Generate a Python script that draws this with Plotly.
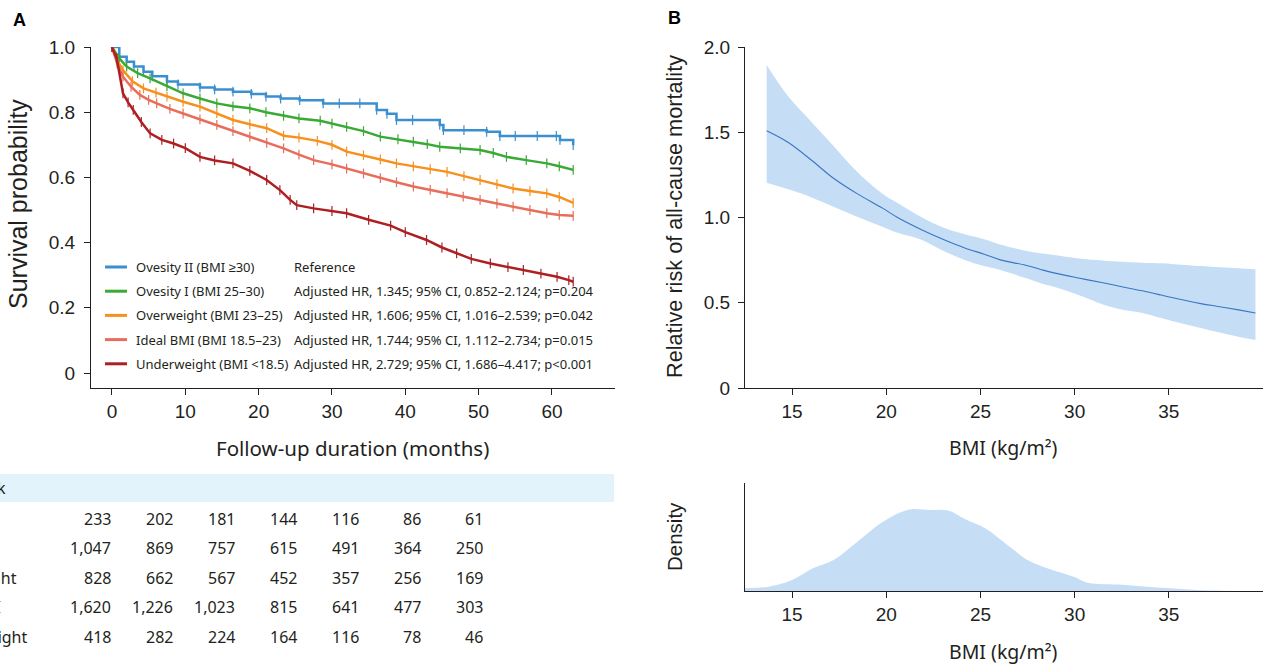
import plotly.graph_objects as go

W, H = 1266, 664
def px(x): return x / W
def py(y): return 1 - y / H

# ---------------- Panel A data (Kaplan-Meier) ----------------
groups = ["Ovesity II (BMI \u226530)", "Ovesity I (BMI 25\u201330)", "Overweight (BMI 23\u201325)",
          "Ideal BMI (BMI 18.5\u201323)", "Underweight (BMI <18.5)"]
hr_text = ["Reference",
           "Adjusted HR, 1.345; 95% CI, 0.852\u20132.124; p=0.204",
           "Adjusted HR, 1.606; 95% CI, 1.016\u20132.539; p=0.042",
           "Adjusted HR, 1.744; 95% CI, 1.112\u20132.734; p=0.015",
           "Adjusted HR, 2.729; 95% CI, 1.686\u20134.417; p<0.001"]
colors = ["#3b8fcf", "#3aa935", "#f6901e", "#e86d5b", "#ad1f23"]
shapes_km = ["hv", "linear", "linear", "linear", "linear"]

t_ob2 = [0, 1, 2, 3, 4.3, 5.5, 7.5, 9, 12, 14, 16.5, 19, 21, 23, 25.6, 28.8, 31, 33.8, 36.1, 37.5,
         38.8, 41, 44.7, 45.2, 48, 51.1, 52.9, 55, 58, 60.6, 61.1, 62.9]
s_ob2 = [1.0, 0.97, 0.955, 0.94, 0.924, 0.91, 0.894, 0.885, 0.876, 0.87, 0.863, 0.856, 0.848, 0.842,
         0.837, 0.827, 0.827, 0.827, 0.807, 0.795, 0.776, 0.776, 0.761, 0.745, 0.745, 0.740, 0.727,
         0.727, 0.727, 0.727, 0.715, 0.699]

t_ob1 = [0, 1, 2, 3.5, 5.2, 7.5, 9.7, 12, 14.3, 16.5, 18.8, 21, 23.4, 25.5, 28.4, 30, 32, 34.3, 36.6,
         39, 41.1, 43, 44.7, 47.5, 50.2, 52, 53.8, 56.5, 59.3, 61, 62.9]
s_ob1 = [1.0, 0.965, 0.94, 0.92, 0.904, 0.88, 0.858, 0.842, 0.827, 0.818, 0.812, 0.80, 0.789, 0.781,
         0.774, 0.765, 0.755, 0.742, 0.725, 0.717, 0.710, 0.702, 0.694, 0.689, 0.684, 0.675, 0.663,
         0.653, 0.643, 0.634, 0.623]

t_ow = [0, 0.7, 1.5, 2.8, 4.3, 6, 7.5, 9.7, 12, 14.3, 16.5, 18.8, 21.1, 23.4, 25.5, 28, 30, 32, 34.3,
        36.6, 38.8, 41.1, 43.4, 45.7, 48, 50.2, 52.5, 54.7, 57, 59.3, 61, 62.9]
s_ow = [1.0, 0.96, 0.929, 0.895, 0.873, 0.86, 0.848, 0.832, 0.817, 0.797, 0.776, 0.763, 0.751, 0.728,
        0.722, 0.712, 0.70, 0.679, 0.668, 0.655, 0.643, 0.634, 0.625, 0.617, 0.604, 0.592, 0.579,
        0.566, 0.558, 0.551, 0.54, 0.522]

t_id = [0, 0.7, 1.5, 2.6, 3.8, 5, 6.1, 7.9, 9.7, 12, 14.3, 16.5, 18.8, 21.1, 23.4, 25.5, 27.5, 30, 32,
        34.3, 36.6, 38.8, 41.1, 43.4, 45.7, 47.9, 50.2, 52.5, 54.7, 57, 59.3, 61, 62.9]
s_id = [1.0, 0.95, 0.909, 0.878, 0.853, 0.838, 0.827, 0.81, 0.796, 0.778, 0.761, 0.742, 0.725, 0.706,
        0.689, 0.67, 0.653, 0.64, 0.627, 0.612, 0.598, 0.585, 0.572, 0.562, 0.552, 0.541, 0.531,
        0.52, 0.51, 0.50, 0.49, 0.485, 0.482]

t_uw = [0, 0.65, 1.5, 2.2, 2.9, 4, 5.2, 6.8, 8.4, 10, 12, 14, 16.5, 18.8, 21.1, 22.9, 24.3, 25.2, 27.5,
        30, 32, 35, 38, 40, 42.9, 45, 47, 49, 51.6, 54, 56.1, 58.5, 60.7, 62.3, 62.9]
s_uw = [1.0, 0.965, 0.858, 0.83, 0.807, 0.77, 0.735, 0.715, 0.704, 0.69, 0.663, 0.652, 0.643, 0.62,
        0.592, 0.561, 0.531, 0.515, 0.505, 0.497, 0.49, 0.47, 0.452, 0.432, 0.408, 0.385, 0.367,
        0.35, 0.336, 0.325, 0.316, 0.305, 0.295, 0.285, 0.28]

km_t = [t_ob2, t_ob1, t_ow, t_id, t_uw]
km_s = [s_ob2, s_ob1, s_ow, s_id, s_uw]

# Number at risk table
risk_times = [0, 10, 20, 30, 40, 50, 60]
risk_labels = ["Ovesity II", "Ovesity I", "Overweight", "Ideal BMI", "Underweight"]
risk_ob2 = ["233", "202", "181", "144", "116", "86", "61"]
risk_ob1 = ["1,047", "869", "757", "615", "491", "364", "250"]
risk_ow = ["828", "662", "567", "452", "357", "256", "169"]
risk_id = ["1,620", "1,226", "1,023", "815", "641", "477", "303"]
risk_uw = ["418", "282", "224", "164", "116", "78", "46"]
risk_rows = [risk_ob2, risk_ob1, risk_ow, risk_id, risk_uw]

# ---------------- Panel B data ----------------
bmi = [13.65, 14.8, 16.1, 17.2, 18.45, 19.8, 20.6, 21.9, 23.1, 24.2, 25.2, 26.1, 27.4, 28.2, 28.9,
       30.2, 31.5, 32.5, 33.6, 34.6, 35.1, 36.7, 37.7, 38.7, 39.6]
rr = [1.509, 1.44, 1.33, 1.23, 1.14, 1.055, 1.0, 0.927, 0.868, 0.82, 0.785, 0.75, 0.72, 0.695, 0.675,
      0.645, 0.617, 0.594, 0.57, 0.545, 0.532, 0.495, 0.477, 0.458, 0.44]
rr_upper = [1.894, 1.709, 1.552, 1.42, 1.269, 1.14, 1.085, 1.0, 0.938, 0.90, 0.873, 0.84, 0.805, 0.79,
            0.78, 0.76, 0.748, 0.74, 0.735, 0.731, 0.728, 0.715, 0.708, 0.702, 0.696]
rr_lower = [1.204, 1.165, 1.115, 1.063, 1.005, 0.946, 0.91, 0.868, 0.80, 0.75, 0.715, 0.69, 0.645,
            0.615, 0.594, 0.545, 0.49, 0.46, 0.44, 0.41, 0.395, 0.352, 0.325, 0.30, 0.281]

dens_bmi = [12.5, 13.75, 15.0, 16.1, 17.2, 18.45, 19.7, 20.8, 21.4, 22.3, 23.3, 24.2, 25.25, 26.55,
            27.5, 28.7, 29.95, 30.7, 32.5, 33.8, 34.9, 36.5, 37.9, 40.0]
dens_val = [0.0037, 0.0052, 0.0134, 0.0277, 0.0378, 0.0598, 0.0826, 0.0963, 0.1, 0.0988, 0.0982,
            0.0874, 0.0765, 0.054, 0.0378, 0.0265, 0.0174, 0.0101, 0.0077, 0.0052, 0.0037, 0.0012,
            0.0004, 0.0]

AX = "#231f20"
BAND = "#c5def5"
TICKFONT = dict(family="Liberation Sans, Arial, sans-serif", size=19, color=AX)

fig = go.Figure()

for i in range(5):
    fig.add_trace(go.Scatter(
        x=km_t[i], y=km_s[i], mode="lines+markers",
        line=dict(color=colors[i], width=2.5, shape=shapes_km[i]),
        marker=dict(symbol="line-ns", size=7, line=dict(color=colors[i], width=1.2)),
        xaxis="x", yaxis="y", showlegend=False, hoverinfo="skip"))

# relative risk band
fig.add_trace(go.Scatter(x=bmi, y=rr_lower, mode="lines", line=dict(width=0, color=BAND, shape="spline"),
                         xaxis="x2", yaxis="y2", showlegend=False))
fig.add_trace(go.Scatter(x=bmi, y=rr_upper, mode="lines", line=dict(width=0, color=BAND, shape="spline"),
                         fill="tonexty", fillcolor=BAND, xaxis="x2", yaxis="y2", showlegend=False))
fig.add_trace(go.Scatter(x=bmi, y=rr, mode="lines", line=dict(width=1.1, color="#3a75c3", shape="spline"),
                         xaxis="x2", yaxis="y2", showlegend=False))
# density
fig.add_trace(go.Scatter(x=dens_bmi, y=dens_val, mode="lines", line=dict(width=0, color=BAND, shape="spline"),
                         fill="tozeroy", fillcolor=BAND, xaxis="x3", yaxis="y3", showlegend=False))

common = dict(showgrid=False, zeroline=False, showline=True, linecolor=AX, linewidth=1.3, automargin=False,
              ticks="outside", ticklen=6, tickcolor=AX, tickwidth=1.3, tickfont=TICKFONT)

fig.update_layout(
    template="none",
    width=W, height=H, margin=dict(l=0, r=0, t=0, b=0, pad=0), autosize=False,
    paper_bgcolor="white", plot_bgcolor="white",
    xaxis=dict(domain=[px(91), px(615)], range=[-2.86, 68.6], tickvals=risk_times, anchor="y", **common),
    yaxis=dict(domain=[py(388), py(47)], range=[-0.046, 1.0], tickvals=[0, 0.2, 0.4, 0.6, 0.8, 1.0],
               ticktext=["0", "0.2", "0.4", "0.6", "0.8", "1.0"], anchor="x", ticklabelstandoff=5, **common),
    xaxis2=dict(domain=[px(745), px(1263)], range=[12.5, 40.0], tickvals=[15, 20, 25, 30, 35], anchor="y2", **common),
    yaxis2=dict(domain=[py(388), py(47)], range=[0, 2.0], tickvals=[0, 0.5, 1.0, 1.5, 2.0],
                ticktext=["0", "0.5", "1.0", "1.5", "2.0"], anchor="x2", ticklabelstandoff=4, **common),
    xaxis3=dict(domain=[px(745), px(1263)], range=[12.5, 40.0], tickvals=[15, 20, 25, 30, 35], anchor="y3", **common),
    yaxis3=dict(domain=[py(591), py(483)], range=[0, 0.1317], anchor="x3", showgrid=False, zeroline=False,
                automargin=False, showline=True, linecolor=AX, linewidth=1.3, ticks="", showticklabels=False),
)

ann = []
shapes = []

def add_text(x, y, text, font, xanchor="center", yanchor="middle", angle=0):
    ann.append(dict(x=px(x), y=py(y), text=text, showarrow=False, xanchor=xanchor, yanchor=yanchor,
                    textangle=angle, xref="paper", yref="paper", font=font))

ARIAL = "Liberation Sans, Arial, sans-serif"
NOTO = "Noto Sans, sans-serif"
# panel letters
add_text(11, 20, "<b>A</b>", dict(family=ARIAL, size=18, color="black"), xanchor="left")
add_text(666, 18, "<b>B</b>", dict(family=ARIAL, size=18, color="black"), xanchor="left")
# axis titles
add_text(352, 448, "Follow-up duration (months)", dict(family=NOTO, size=20.5, color=AX))
add_text(18, 204, "Survival probability", dict(family=ARIAL, size=25, color=AX), angle=-90)
add_text(674, 217, "Relative risk of all-cause mortality", dict(family=ARIAL, size=21.7, color=AX), angle=-90)
add_text(1003, 448, "BMI (kg/m\u00b2)", dict(family=NOTO, size=19.5, color=AX))
add_text(674, 537, "Density", dict(family=ARIAL, size=20.5, color=AX), angle=-90)
add_text(1003, 651, "BMI (kg/m\u00b2)", dict(family=NOTO, size=19.5, color=AX))

# legend inside panel A
LEGFONT = dict(family=NOTO, size=13, color=AX)
for i in range(5):
    yy = 267 + 24.2 * i
    shapes.append(dict(type="line", xref="paper", yref="paper", x0=px(105), x1=px(127), y0=py(yy), y1=py(yy),
                       line=dict(color=colors[i], width=3)))
    add_text(134, yy, groups[i].replace("<", "&lt;"), LEGFONT, xanchor="left")
    add_text(292, yy, hr_text[i].replace("<", "&lt;"), LEGFONT, xanchor="left")

# risk table
shapes.append(dict(type="rect", xref="paper", yref="paper", x0=0, x1=px(614), y0=py(502), y1=py(474),
                   line=dict(width=0), fillcolor="#e3f3fb", layer="below"))
TABFONT = dict(family=NOTO, size=16, color=AX)
add_text(8, 488, "Number at risk", TABFONT, xanchor="right")
col_x = [113, 175, 237, 299, 361, 423, 485]
row_y = [519, 548, 578, 607, 637]
for r in range(5):
    add_text(-73.5, row_y[r], risk_labels[r], TABFONT, xanchor="left")
    for c in range(7):
        add_text(col_x[c], row_y[r], risk_rows[r][c], TABFONT, xanchor="right")

fig.update_layout(annotations=ann, shapes=shapes)
fig.write_html("out.html", config={"displayModeBar": False},
               post_script="document.body.style.margin='0px';document.body.style.overflow='hidden';")
